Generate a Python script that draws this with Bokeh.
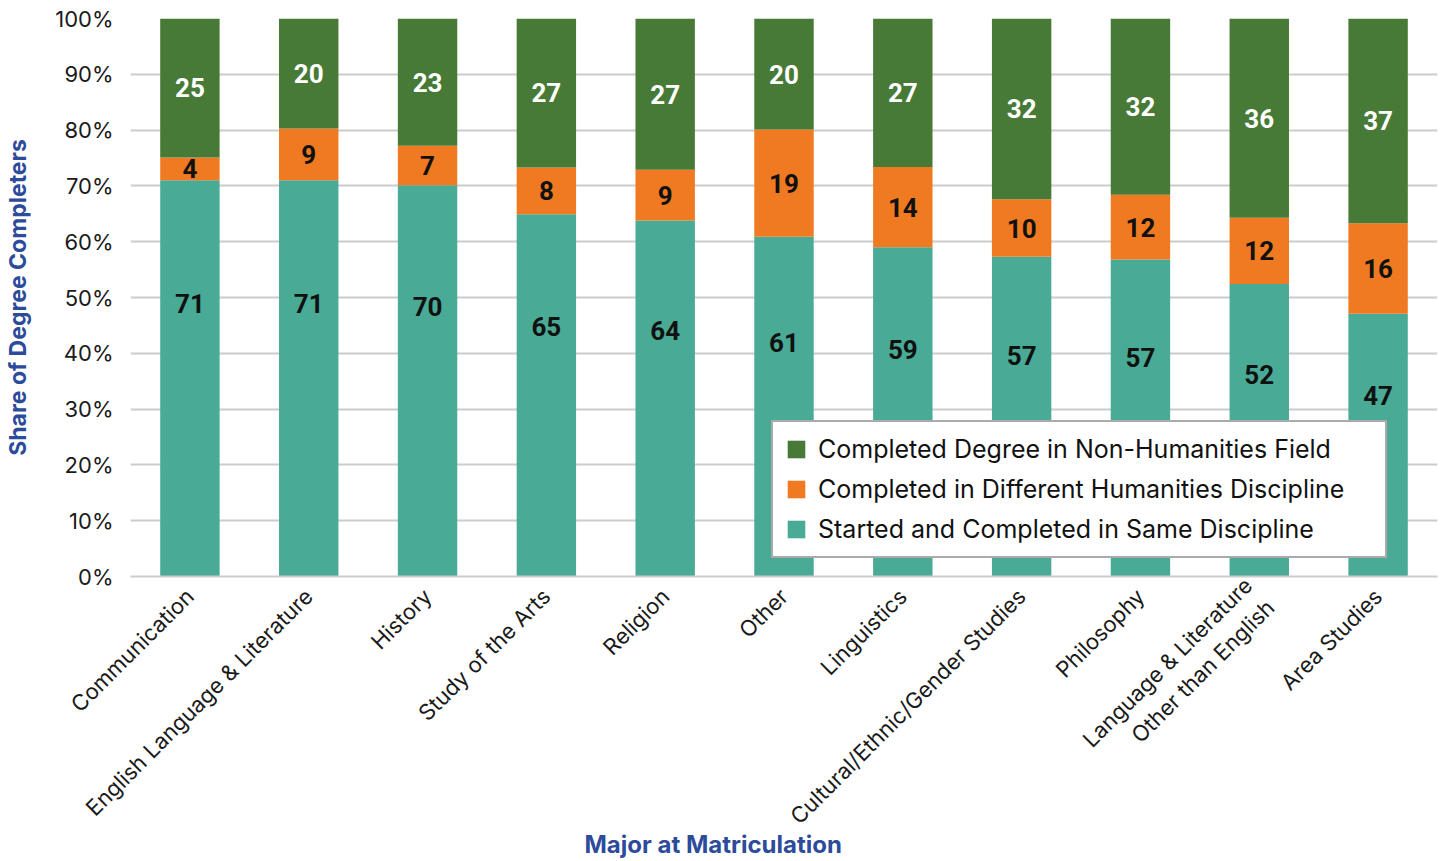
import math
from bokeh.plotting import figure
from bokeh.models import (ColumnDataSource, Legend, LegendItem, FixedTicker, Range1d,
                          FactorRange, Title, PrintfTickFormatter)
from bokeh.embed import file_html
from bokeh.resources import INLINE
from bokeh.core.properties import value

categories = ["Communication", "English Language & Literature", "History", "Study of the Arts",
              "Religion", "Other", "Linguistics", "Cultural/Ethnic/Gender Studies", "Philosophy",
              "Language & Literature\nOther than English", "Area Studies"]
same = [71.0, 71.0, 70.1, 64.9, 63.8, 60.9, 59.0, 57.3, 56.8, 52.4, 47.1]
different = [4.1, 9.3, 7.1, 8.4, 9.1, 19.2, 14.4, 10.3, 11.6, 11.9, 16.2]
non_hum = [24.9, 19.7, 22.8, 26.7, 27.1, 19.9, 26.6, 32.4, 31.6, 35.7, 36.7]

series_names = ["Completed Degree in Non-Humanities Field",
                "Completed in Different Humanities Discipline",
                "Started and Completed in Same Discipline"]

TEAL = "#49ab96"
ORANGE = "#f07a21"
GREEN = "#477a36"
BLUE = "#2d4b9b"
FONT = "Inter"
NUM_FONT = "Roboto"

src = ColumnDataSource(dict(cat=categories, same=same, different=different, non_hum=non_hum))

p = figure(x_range=FactorRange(factors=categories), y_range=Range1d(0, 100),
           frame_width=1307, frame_height=558, min_border_left=130, min_border_right=6,
           min_border_top=18, min_border_bottom=285,
           output_backend="svg", toolbar_location=None)

rs = p.vbar_stack(["same", "different", "non_hum"], x="cat", width=0.5,
                  color=[TEAL, ORANGE, GREEN], line_color=None, source=src)

# data labels
lab_same = ColumnDataSource(dict(cat=categories, y=[s * 0.69 for s in same],
                                 t=[f"{v:.0f}" for v in same]))
lab_diff = ColumnDataSource(dict(cat=categories, y=[s + d / 2 for s, d in zip(same, different)],
                                 t=[f"{v:.0f}" for v in different]))
lab_non = ColumnDataSource(dict(cat=categories,
                                y=[s + d + n / 2 for s, d, n in zip(same, different, non_hum)],
                                t=[f"{v:.0f}" for v in non_hum]))
for s, col in [(lab_same, "#111111"), (lab_diff, "#111111"), (lab_non, "#ffffff")]:
    p.text(x="cat", y="y", text="t", source=s, text_align="center", text_baseline="middle",
           text_font=value(NUM_FONT), text_font_style="bold", text_font_size="26px",
           text_color=col)

# axes
p.yaxis.ticker = FixedTicker(ticks=list(range(0, 101, 10)))
p.yaxis.formatter = PrintfTickFormatter(format="%d%%")
p.yaxis.major_label_text_font = FONT
p.yaxis.major_label_text_font_size = "22px"
p.yaxis.major_label_text_color = "#1a1a1a"
p.yaxis.major_label_standoff = 11
p.yaxis.axis_line_color = None
p.yaxis.major_tick_line_color = None
p.yaxis.minor_tick_line_color = None
p.yaxis.axis_label = "Share of Degree Completers"
p.yaxis.axis_label_text_font = FONT
p.yaxis.axis_label_text_font_style = "bold"
p.yaxis.axis_label_text_font_size = "23px"
p.yaxis.axis_label_text_color = BLUE
p.yaxis.axis_label_standoff = 20

p.xaxis.major_label_orientation = math.pi / 4
p.xaxis.major_label_text_font = FONT
p.xaxis.major_label_text_font_size = "22px"
p.xaxis.major_label_text_color = "#1a1a1a"
p.xaxis.major_label_standoff = 10
p.xaxis.axis_line_color = "#cccccc"
p.xaxis.axis_line_width = 2
p.xaxis.major_tick_line_color = None
p.xaxis.minor_tick_line_color = None

p.xgrid.grid_line_color = None
p.ygrid.grid_line_color = "#cccccc"
p.ygrid.grid_line_width = 2
p.outline_line_color = None

p.add_layout(Title(text="Major at Matriculation", align="left", offset=454, standoff=-28,
                   text_font=FONT, text_font_size="24px", text_font_style="bold",
                   text_color=BLUE), "below")

legend = Legend(items=[LegendItem(label=series_names[0], renderers=[rs[2]]),
                       LegendItem(label=series_names[1], renderers=[rs[1]]),
                       LegendItem(label=series_names[2], renderers=[rs[0]])],
                location=(641, 18), border_line_color="#555555", border_line_width=2,
                label_text_font=FONT, label_text_font_size="25px", label_text_color="#111111",
                glyph_width=22, glyph_height=22, label_standoff=11, padding=12,
                spacing=10, label_height=30, label_width=555, margin=0,
                background_fill_alpha=1)
p.add_layout(legend, "center")

open("out.html", "w").write(file_html(p, INLINE))
